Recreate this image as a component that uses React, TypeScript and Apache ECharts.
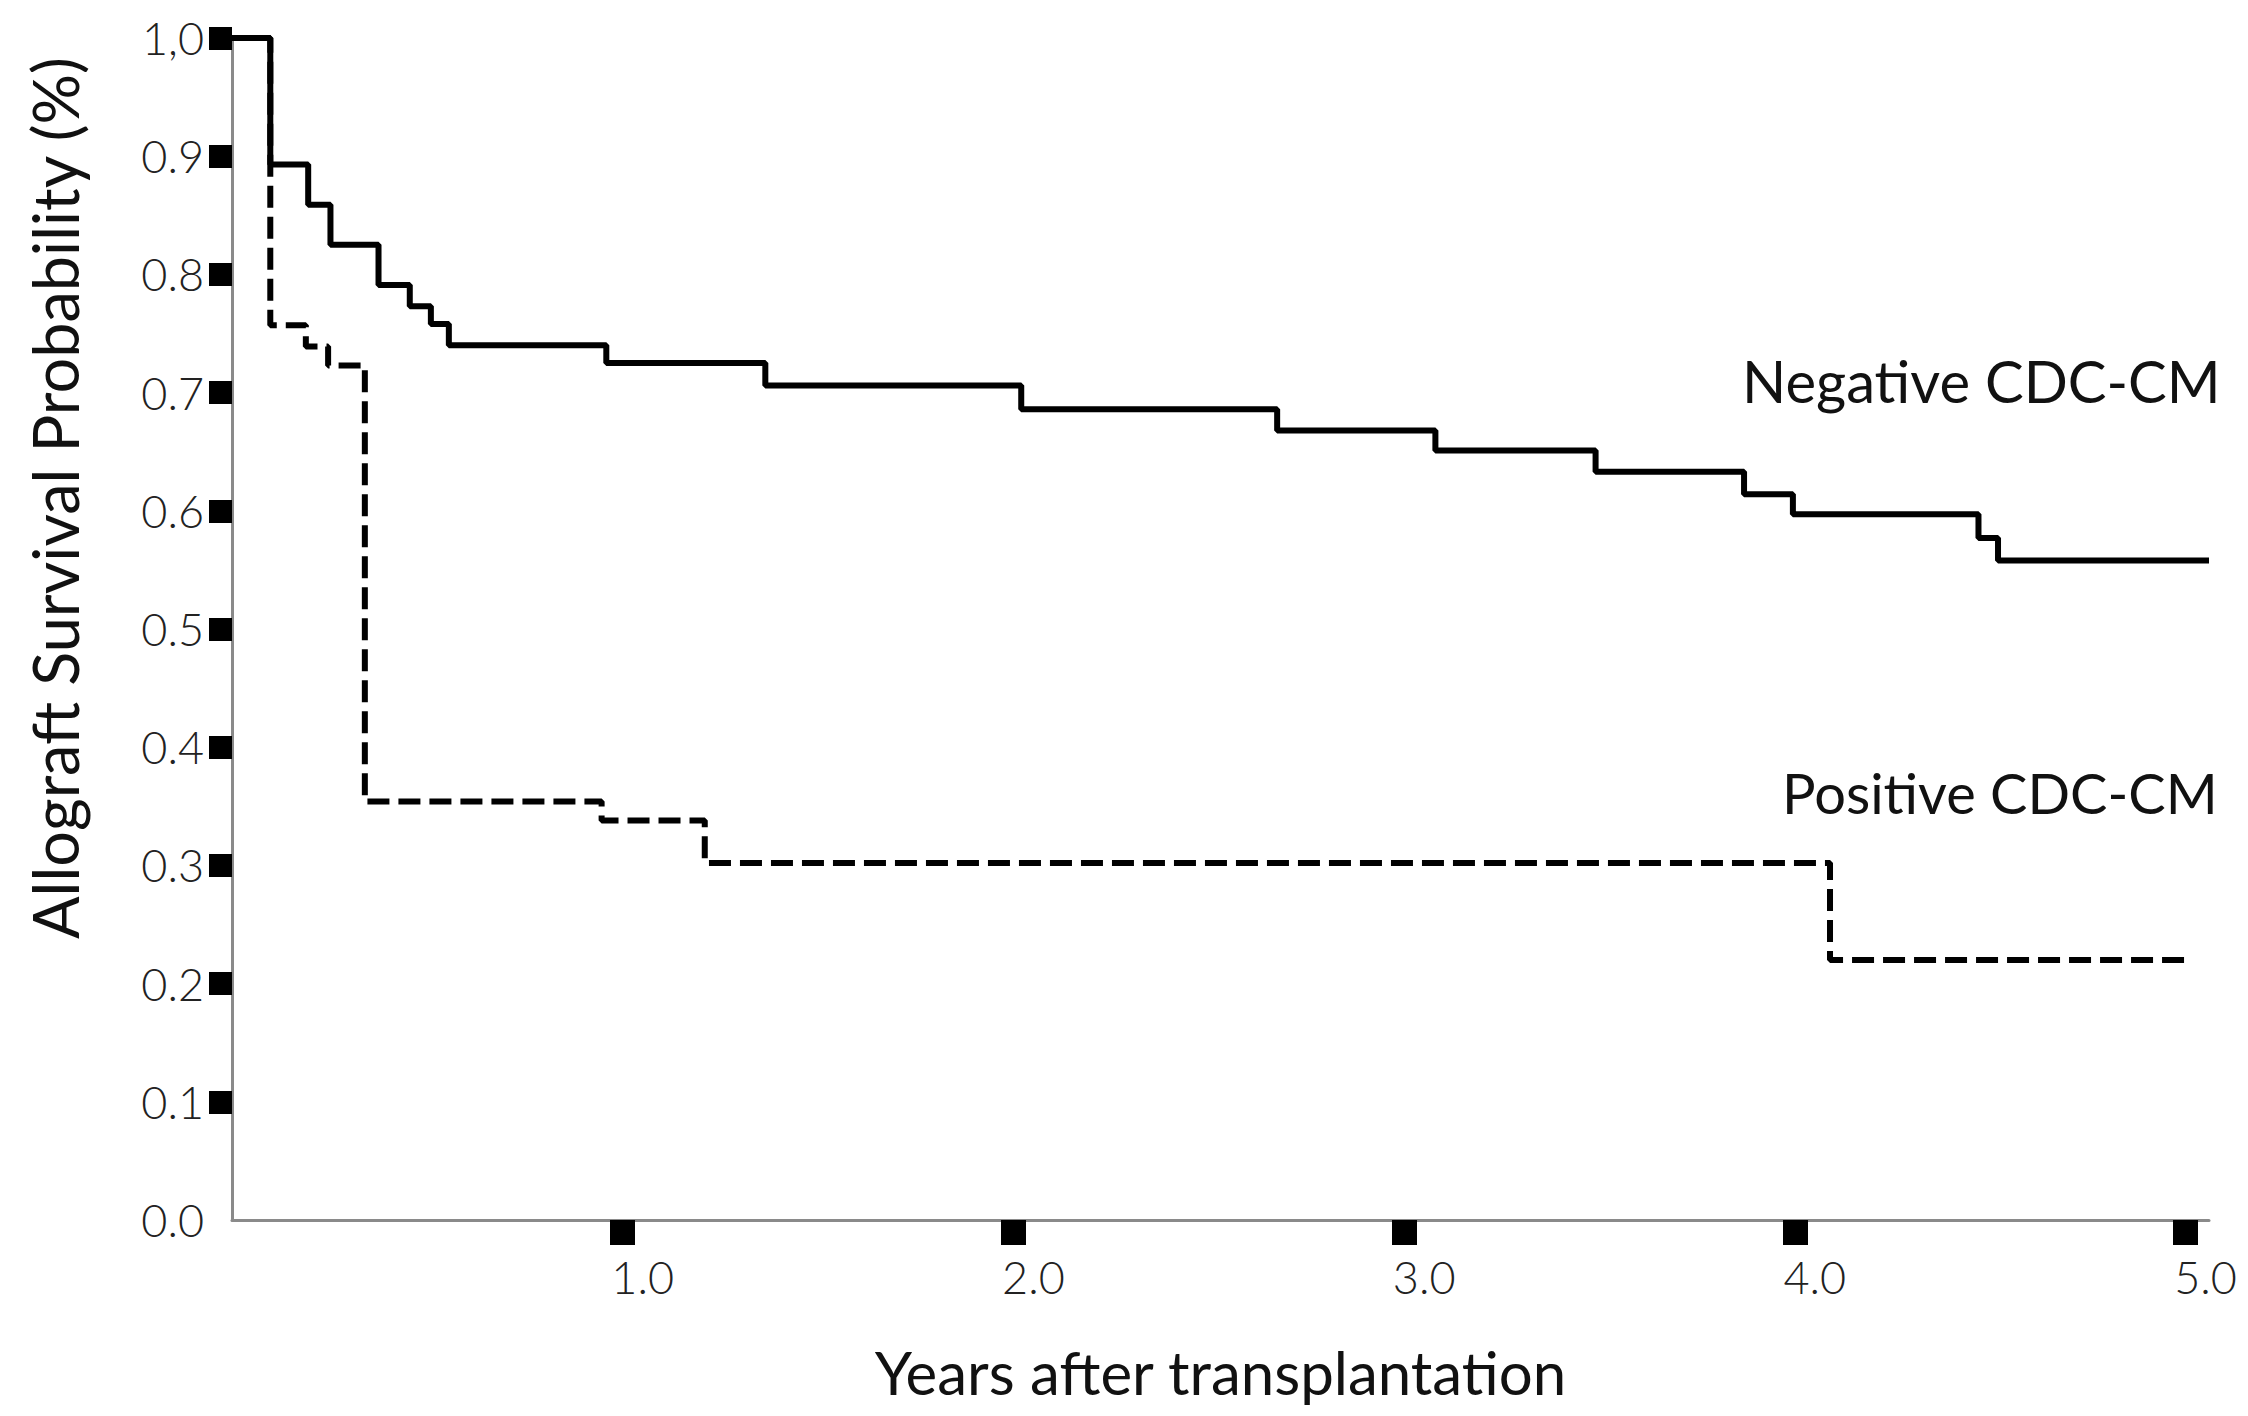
import React, { useEffect, useRef } from "react";
import * as echarts from "echarts";

// Kaplan-Meier curves (years, survival probability)
const negativeTimes = [0, 0.098, 0.195, 0.252, 0.375, 0.455, 0.509, 0.555, 0.958, 1.365, 2.02, 2.675, 3.08, 3.49, 3.87, 3.995, 4.47, 4.52, 5.06];
const negativeSurvival = [1.0, 0.893, 0.859, 0.825, 0.791, 0.773, 0.758, 0.74, 0.725, 0.706, 0.686, 0.668, 0.651, 0.633, 0.614, 0.597, 0.577, 0.558, 0.558];

const positiveTimes = [0, 0.098, 0.189, 0.246, 0.34, 0.946, 1.21, 4.09, 5.0];
const positiveSurvival = [1.0, 0.757, 0.739, 0.723, 0.354, 0.338, 0.302, 0.22, 0.22];

const seriesNames = ["Negative CDC-CM", "Positive CDC-CM"];
const xTickValues = [1, 2, 3, 4, 5];
const yTickValues = [0.1, 0.2, 0.3, 0.4, 0.5, 0.6, 0.7, 0.8, 0.9, 1.0];
const yLabelValues = [0, 0.1, 0.2, 0.3, 0.4, 0.5, 0.6, 0.7, 0.8, 0.9, 1.0];
const xAxisTitle = "Years after transplantation";
const yAxisTitle = "Allograft Survival Probability (%)";

const FONT = "Lato, 'Open Sans', sans-serif";

export default function App() {
  const ref = useRef<HTMLDivElement>(null);

  useEffect(() => {
    const chart = echarts.init(ref.current as HTMLDivElement, null, { renderer: "svg" });
    const negData = negativeTimes.map((t, i) => [t, negativeSurvival[i]]);
    const posData = positiveTimes.map((t, i) => [t, positiveSurvival[i]]);

    const option = {
      animation: false,
      backgroundColor: "#ffffff",
      grid: { left: 232, right: 39, top: 38, bottom: 196 },
      xAxis: {
        type: "value",
        min: 0,
        max: 5.06,
        name: xAxisTitle,
        nameLocation: "middle",
        nameGap: 122,
        nameTextStyle: { fontFamily: FONT, fontSize: 60, color: "#111" },
        splitLine: { show: false },
        axisLine: { show: true, onZero: false, lineStyle: { color: "#8a8a8a", width: 3 } },
        axisTick: {
          show: true,
          customValues: xTickValues,
          length: 25,
          inside: false,
          lineStyle: { color: "#000", width: 25 },
        },
        axisLabel: {
          customValues: xTickValues,
          margin: 34,
          padding: [0, 0, 0, 40],
          fontFamily: FONT,
          fontSize: 45,
          fontWeight: 300,
          color: "#222",
          formatter: (v: number) => v.toFixed(1),
        },
      },
      yAxis: {
        type: "value",
        min: 0,
        max: 1,
        interval: 0.1,
        splitLine: { show: false },
        axisLine: { show: true, onZero: false, lineStyle: { color: "#8a8a8a", width: 3 } },
        axisTick: {
          show: true,
          customValues: yTickValues,
          length: 23,
          inside: false,
          lineStyle: { color: "#000", width: 23 },
        },
        axisLabel: {
          customValues: yLabelValues,
          margin: 28,
          fontFamily: FONT,
          fontSize: 45,
          fontWeight: 300,
          color: "#222",
          formatter: (v: number) => (Math.abs(v - 1) < 1e-9 ? "1,0" : v.toFixed(1)),
        },
      },
      graphic: [
        {
          type: "text",
          x: 54,
          y: 498,
          rotation: Math.PI / 2,
          style: {
            text: yAxisTitle,
            fontFamily: FONT,
            fontSize: 63,
            fill: "#111",
            align: "center",
            verticalAlign: "middle",
          },
        },
        {
          type: "text",
          x: 1742,
          y: 380,
          style: {
            text: seriesNames[0],
            fontFamily: FONT,
            fontSize: 58,
            fill: "#111",
            align: "left",
            verticalAlign: "middle",
          },
        },
        {
          type: "text",
          x: 1782,
          y: 792,
          style: {
            text: seriesNames[1],
            fontFamily: FONT,
            fontSize: 56,
            fill: "#111",
            align: "left",
            verticalAlign: "middle",
          },
        },
      ],
      series: [
        {
          name: seriesNames[1],
          type: "line",
          step: "end",
          data: posData,
          showSymbol: false,
          symbol: "none",
          clip: false,
          lineStyle: { color: "#000", width: 6, type: [22, 9] },
          z: 2,
        },
        {
          name: seriesNames[0],
          type: "line",
          step: "end",
          data: negData,
          showSymbol: false,
          symbol: "none",
          clip: false,
          lineStyle: { color: "#000", width: 6, type: "solid" },
          z: 3,
        },
      ],
    };

    chart.setOption(option as any);
    return () => chart.dispose();
  }, []);

  return (
    <div
      ref={ref}
      style={{ position: "fixed", left: 0, top: 0, width: 2248, height: 1416, background: "#fff" }}
    />
  );
}
